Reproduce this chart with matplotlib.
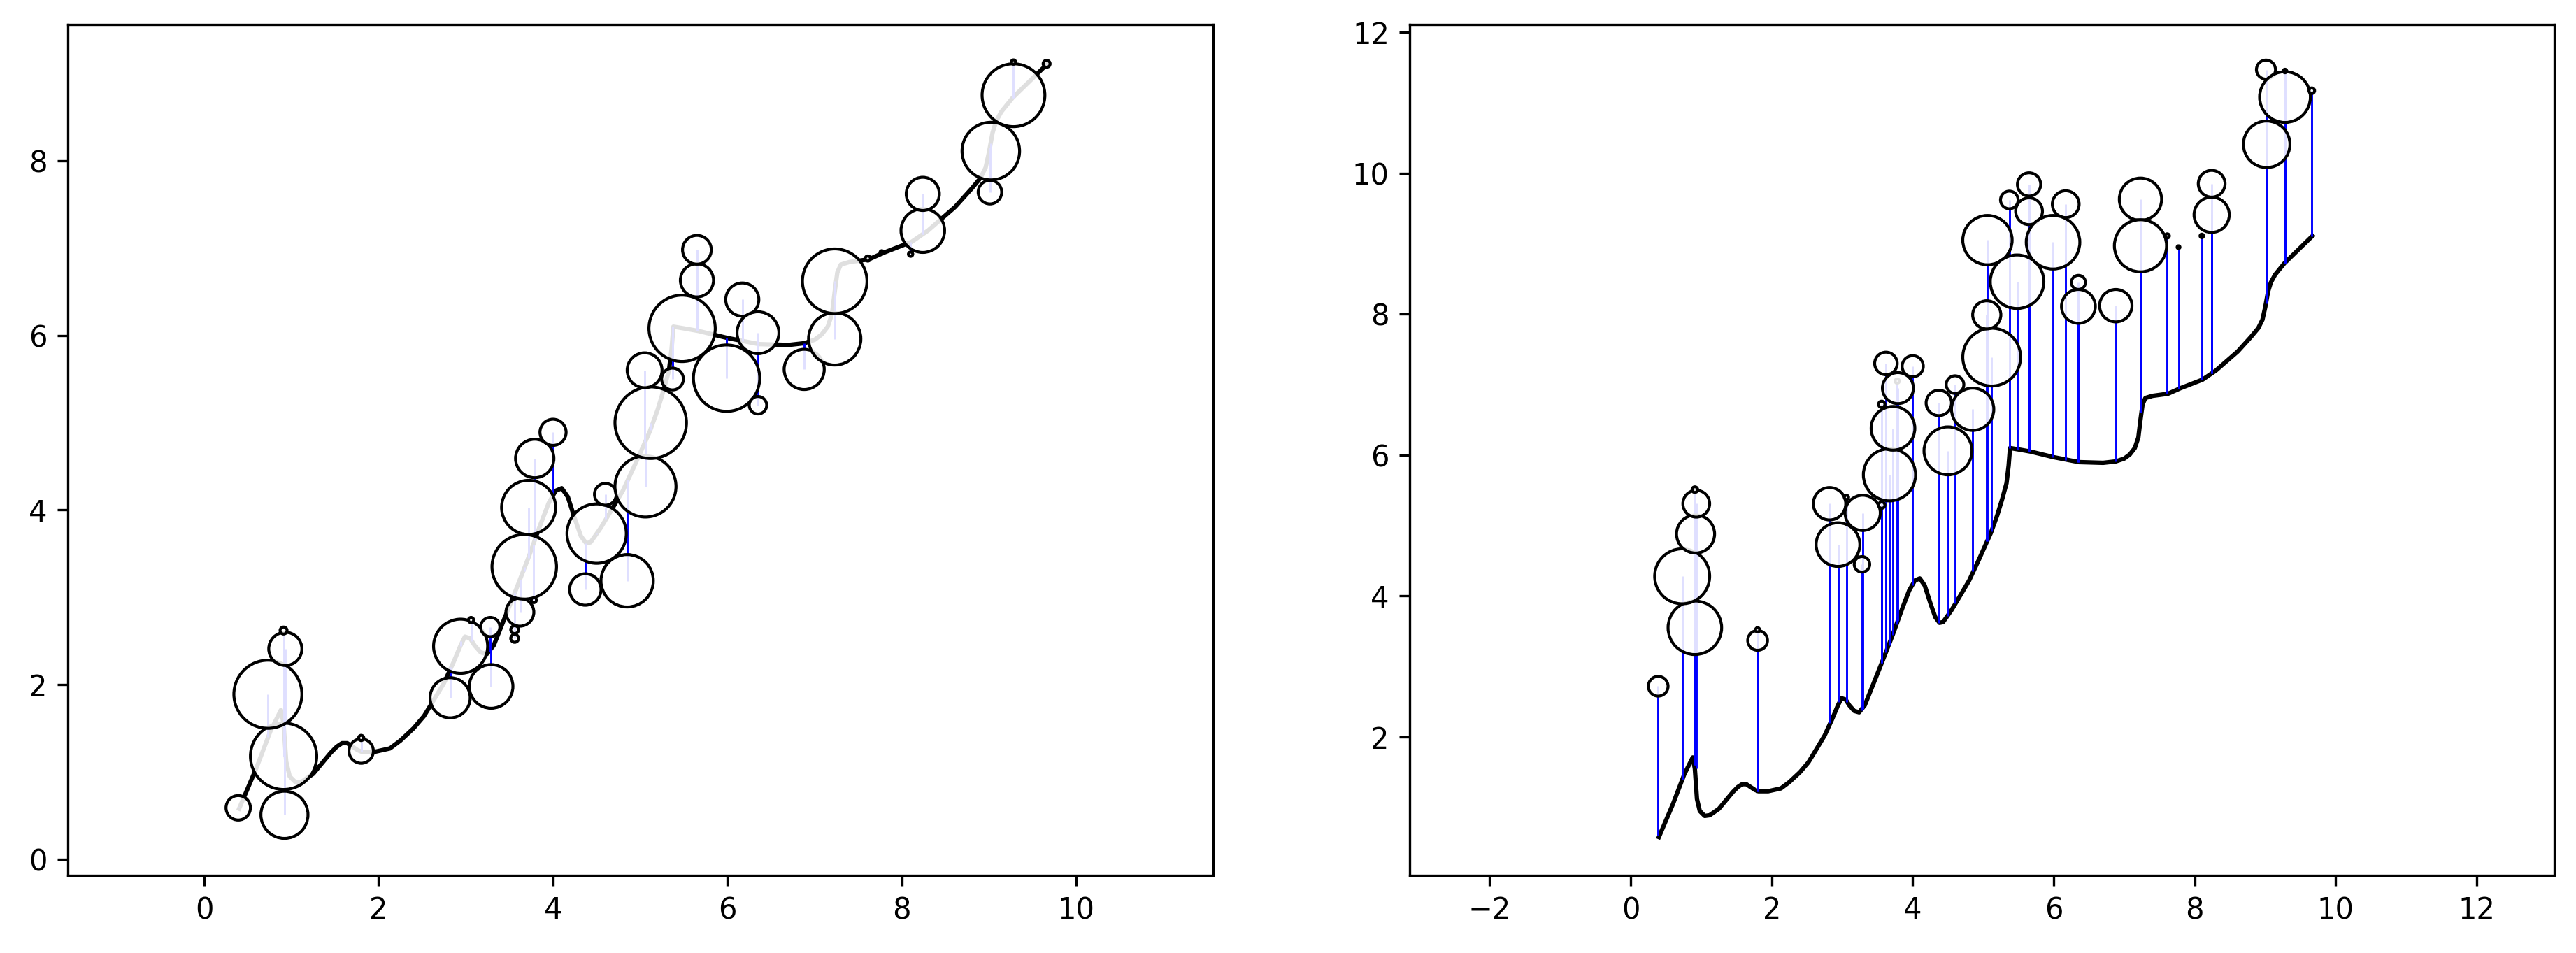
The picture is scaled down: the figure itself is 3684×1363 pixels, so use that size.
import matplotlib
matplotlib.use("Agg")
import matplotlib.pyplot as plt
from matplotlib.patches import Circle

# fitted curve (same in both panels)
curve_x = [0.40, 0.60, 0.76, 0.84, 0.88, 0.91, 0.94, 0.98, 1.05, 1.12, 1.25, 1.35,
           1.45, 1.52, 1.58, 1.64, 1.70, 1.76, 1.81, 1.95, 2.13, 2.25, 2.40, 2.52,
           2.63, 2.75, 2.86, 2.94, 2.99, 3.05, 3.10, 3.17, 3.24, 3.32, 3.40, 3.48,
           3.58, 3.72, 3.85, 3.95, 4.03, 4.10, 4.17, 4.25, 4.32, 4.38, 4.43, 4.48,
           4.55, 4.64, 4.80, 4.94, 5.11, 5.20, 5.27, 5.33, 5.36, 5.38, 5.50, 5.67,
           6.00, 6.36, 6.70, 6.88, 7.00, 7.08, 7.15, 7.20, 7.23, 7.26, 7.30, 7.40,
           7.62, 7.80, 8.11, 8.30, 8.61, 8.80, 8.90, 8.96, 9.00, 9.04, 9.08, 9.14,
           9.27, 9.67]
curve_y = [0.58, 1.05, 1.47, 1.63, 1.71, 1.55, 1.12, 0.95, 0.88, 0.89, 0.98, 1.10,
           1.22, 1.29, 1.33, 1.33, 1.29, 1.25, 1.23, 1.23, 1.27, 1.36, 1.50, 1.64,
           1.82, 2.02, 2.26, 2.45, 2.55, 2.53, 2.45, 2.37, 2.35, 2.45, 2.65, 2.85,
           3.10, 3.46, 3.82, 4.08, 4.22, 4.25, 4.15, 3.90, 3.70, 3.62, 3.63, 3.70,
           3.80, 3.95, 4.22, 4.52, 4.90, 5.15, 5.38, 5.60, 5.85, 6.10, 6.08, 6.05,
           5.97, 5.90, 5.89, 5.91, 5.95, 6.01, 6.10, 6.25, 6.50, 6.72, 6.81, 6.84,
           6.87, 6.95, 7.07, 7.20, 7.47, 7.68, 7.80, 7.92, 8.10, 8.32, 8.45, 8.56,
           8.72, 9.11]

# points: x, radius, y on the left panel, y on the right panel, curve value under x
pt_x = [0.39, 0.91, 0.73, 0.92, 0.93, 0.91, 1.80, 1.80, 2.82, 2.94, 3.29, 3.28,
        3.06, 3.56, 3.56, 3.62, 3.78, 3.67, 3.72, 3.79, 4.00, 4.50, 4.60, 4.37,
        4.85, 5.06, 5.12, 5.05, 5.37, 5.48, 5.65, 5.65, 6.17, 5.99, 6.35, 6.35,
        6.88, 7.23, 7.23, 7.61, 7.77, 8.10, 8.24, 8.24, 9.01, 9.02, 9.28, 9.28, 9.66]
pt_r = [0.14, 0.38, 0.39, 0.27, 0.19, 0.04, 0.14, 0.03, 0.23, 0.31, 0.25, 0.11,
        0.03, 0.045, 0.045, 0.16, 0.03, 0.37, 0.31, 0.22, 0.15, 0.34, 0.125, 0.18,
        0.30, 0.35, 0.41, 0.20, 0.125, 0.38, 0.19, 0.165, 0.19, 0.38, 0.10, 0.24,
        0.23, 0.30, 0.37, 0.03, 0.02, 0.025, 0.25, 0.19, 0.135, 0.33, 0.36, 0.025, 0.04]
pt_y_left = [0.59, 1.18, 1.89, 0.51, 2.41, 2.62, 1.24, 1.39, 1.85, 2.44, 1.98, 2.66,
             2.74, 2.63, 2.53, 2.83, 2.97, 3.35, 4.03, 4.59, 4.89, 3.73, 4.18, 3.09,
             3.19, 4.27, 5.00, 5.60, 5.50, 6.08, 6.63, 6.98, 6.41, 5.51, 5.20, 6.03,
             5.61, 5.96, 6.62, 6.88, 6.95, 6.93, 7.20, 7.62, 7.64, 8.11, 8.75, 9.13, 9.11]
pt_y_right = [2.72, 3.55, 4.28, 4.88, 5.31, 5.51, 3.37, 3.52, 5.31, 4.73, 5.18, 4.45,
              5.40, 6.72, 5.29, 7.30, 7.05, 5.72, 6.38, 6.95, 7.26, 6.06, 7.00, 6.74,
              6.65, 9.05, 7.39, 7.99, 9.62, 8.46, 9.46, 9.84, 9.56, 9.02, 8.45, 8.11,
              8.12, 9.63, 8.97, 9.11, 8.95, 9.11, 9.41, 9.85, 11.47, 10.41, 11.08, 11.45, 11.17]
stem_base = [0.60, 1.60, 1.40, 1.60, 1.55, 1.60, 1.23, 1.23, 2.20, 2.50, 2.40, 2.38,
             2.50, 3.05, 3.05, 3.20, 3.60, 3.30, 3.45, 3.65, 4.15, 3.72, 3.90, 3.62,
             4.35, 4.78, 4.92, 4.78, 6.10, 6.08, 6.05, 6.05, 5.93, 5.97, 5.90, 5.90,
             5.91, 6.60, 6.60, 6.87, 6.94, 7.07, 7.16, 7.16, 8.15, 8.20, 8.72, 8.72, 9.10]

fig = plt.figure(figsize=(3684 / 300, 1363 / 300), dpi=300)
ax1 = fig.add_axes([97 / 3684, 111 / 1363, 1638 / 3684, 1217 / 1363])
ax2 = fig.add_axes([2016 / 3684, 111 / 1363, 1637 / 3684, 1217 / 1363])


def draw_panel(ax, ys):
    ax.plot(curve_x, curve_y, color="black", lw=1.5, zorder=1)
    ax.vlines(pt_x, stem_base, ys, color="blue", lw=0.7, zorder=2)
    for x, y, r in zip(pt_x, ys, pt_r):
        ax.add_patch(Circle((x, y), r, facecolor=(1, 1, 1, 0.88),
                            edgecolor="black", lw=1.0, zorder=3))


draw_panel(ax1, pt_y_left)
ax1.set_xlim(-1.564, 11.57)
ax1.set_ylim(-0.184, 9.56)

draw_panel(ax2, pt_y_right)
ax2.set_xlim(-3.135, 13.10)
ax2.set_ylim(0.036, 12.11)

fig.savefig("out.png", dpi=300)
